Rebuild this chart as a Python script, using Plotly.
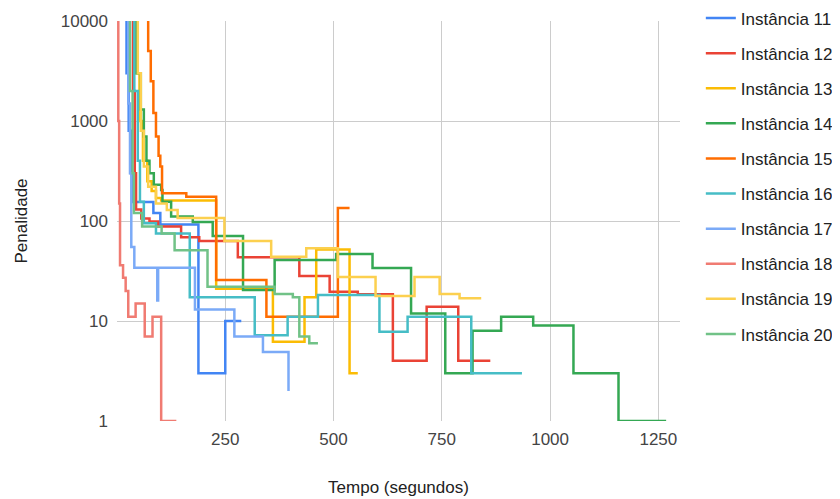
import plotly.graph_objects as go

names = ["Instância 11", "Instância 12", "Instância 13", "Instância 14", "Instância 15",
         "Instância 16", "Instância 17", "Instância 18", "Instância 19", "Instância 20"]
colors = ["#4285f4", "#ea4335", "#fbbc04", "#34a853", "#ff6d01",
          "#46bdc6", "#7baaf7", "#f07b72", "#fcd04f", "#71c287"]

t11 = [15, 22, 27, 32, 36, 84, 100, 188, 250, 287]
p11 = [20000, 3000, 800, 300, 155, 120, 92, 3, 10, 10]

t12 = [32, 37, 41, 44, 56, 75, 95, 148, 190, 279, 421, 491, 556, 637, 715, 788, 862]
p12 = [20000, 2000, 300, 130, 106, 99, 88, 68.7, 63, 43.3, 28.2, 19.6, 18.5, 4, 13.9, 4, 4]

t13 = [36, 44, 52, 60, 70, 80, 90, 102, 229, 360, 433, 460, 537, 556]
p13 = [20000, 3000, 1000, 400, 250, 200, 170, 160, 21, 6.2, 17.3, 52, 3, 3]

t14 = [35, 45, 55, 62, 68, 75, 85, 102, 105, 125, 175, 221, 291, 364, 506, 590,
       679, 758, 821, 887, 961, 1054, 1158, 1268]
p14 = [20000, 3000, 1300, 700, 400, 300, 230, 204, 156, 111, 98, 70.8, 20.4, 40.7,
       46.8, 33.9, 11.9, 3, 8, 11, 9, 3, 1, 1]

t15 = [66, 72, 78, 84, 90, 96, 100, 104, 160, 229, 345, 510, 537]
p15 = [11000, 5000, 2500, 1200, 700, 450, 350, 189, 175, 25.7, 11, 135, 135]

t16 = [33, 40, 48, 53, 62, 90, 168, 318, 394, 464, 606, 671, 818, 935]
p16 = [15000, 2000, 400, 156, 95, 75, 17.3, 7.2, 11, 18.2, 7.8, 11, 3, 3]

t17 = [20, 26, 30, 33, 40, 93, 95, 180, 271, 337, 396]
p17 = [20000, 1500, 300, 55, 34, 16, 34, 13, 7, 4.9, 2]

t18 = [1, 3, 5, 7, 14, 20, 26, 43, 64, 82, 102, 137]
p18 = [20000, 1000, 150, 36, 27, 20, 11, 15, 7, 11, 1, 1]

t19 = [42, 48, 55, 62, 72, 90, 115, 140, 248, 356, 437, 510, 597, 687, 745, 791, 841]
p19 = [20000, 3000, 800, 350, 220, 150, 129, 107, 63, 44, 53.3, 27.5, 17.8, 27.6,
       18.6, 16.9, 16.9]

t20 = [24, 30, 36, 39, 58, 103, 133, 209, 364, 406, 421, 444, 464]
p20 = [20000, 2000, 300, 120, 88, 75, 51, 22, 18.6, 17.3, 7, 6, 6]

times = [t11, t12, t13, t14, t15, t16, t17, t18, t19, t20]
pens = [p11, p12, p13, p14, p15, p16, p17, p18, p19, p20]

x_ticks = [250, 500, 750, 1000, 1250]
y_ticks = [1, 10, 100, 1000, 10000]

FONT = "Liberation Sans, Arial, sans-serif"

fig = go.Figure()
for i in range(len(names)):
    fig.add_trace(go.Scatter(
        x=times[i], y=pens[i], name=names[i], mode="lines",
        line=dict(color=colors[i], width=2.5, shape="hv"),
        legendgroup=names[i],
    ))

fig.update_layout(
    width=840, height=499,
    margin=dict(l=109, r=168, t=13, b=86, autoexpand=False),
    paper_bgcolor="white", plot_bgcolor="white",
    font=dict(family=FONT, size=17, color="#222222"),
    showlegend=True,
    legend=dict(x=1.037, y=0.6125, xanchor="left", yanchor="middle",
                font=dict(family=FONT, size=17, color="#222222"),
                tracegroupgap=10, itemwidth=30, bgcolor="rgba(0,0,0,0)"),
    xaxis=dict(range=[0, 1300], tickvals=x_ticks, ticktext=[str(v) for v in x_ticks],
               showgrid=True, gridcolor="#cccccc", gridwidth=1, zeroline=False,
               showline=False, ticks="", ticklabelstandoff=6,
               tickfont=dict(family=FONT, size=17, color="#444444"),
               title=dict(text="Tempo (segundos)", standoff=33,
                          font=dict(family=FONT, size=17, color="#222222"))),
    yaxis=dict(type="log", range=[0, 4], tickvals=y_ticks,
               ticktext=[str(v) for v in y_ticks],
               showgrid=True, gridcolor="#cccccc", gridwidth=1, zeroline=False,
               showline=False, ticks="", ticklabelstandoff=8,
               tickfont=dict(family=FONT, size=17, color="#444444"),
               title=dict(text="Penalidade", standoff=28,
                          font=dict(family=FONT, size=17, color="#222222"))),
)

fig.write_html("out.html")
